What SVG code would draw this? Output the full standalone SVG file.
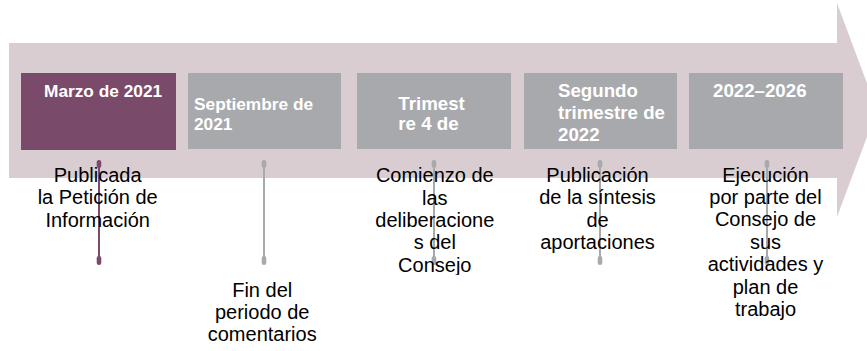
<svg xmlns="http://www.w3.org/2000/svg" width="867" height="351" viewBox="0 0 867 351">
<defs>
<style>
.box{fill:#A8A9AD;}
.boxp{fill:#7A4A6B;}
.bt{font-family:"Liberation Sans",Arial,sans-serif;font-weight:bold;fill:#FFFFFF;}
.s1{font-size:17.3px;}
.s2{font-size:18.7px;}
.lb{font-family:"Liberation Sans",Arial,sans-serif;font-size:20px;fill:#000000;text-anchor:middle;}
.pg{fill:#A8A9AD;}
.pp{fill:#7A4A6B;}
.lg{stroke:#A8A9AD;stroke-width:2;}
.lp{stroke:#7A4A6B;stroke-width:2;}
</style>
<clipPath id="clip3"><rect x="360" y="160" width="150" height="115"/></clipPath>
</defs>
<rect width="867" height="351" fill="#FFFFFF"/>
<polygon id="band" points="9,43 837,43 837,3 877,110 837,217 837,178 9,178" fill="#D9CDD2"/>
<g id="connectors">
<line class="lp" x1="99" y1="164" x2="99" y2="261"/>
<rect class="pp" x="96.7" y="160" width="4.6" height="8" rx="2.3"/>
<rect class="pp" x="96.7" y="256" width="4.6" height="9" rx="2.3"/>
<line class="lg" x1="264" y1="164" x2="264" y2="261"/>
<rect class="pg" x="261.7" y="160" width="4.6" height="8" rx="2.3"/>
<rect class="pg" x="261.7" y="256" width="4.6" height="9" rx="2.3"/>
<line class="lg" x1="434" y1="164" x2="434" y2="261"/>
<rect class="pg" x="431.7" y="160" width="4.6" height="8" rx="2.3"/>
<rect class="pg" x="431.7" y="256" width="4.6" height="9" rx="2.3"/>
<line class="lg" x1="600" y1="164" x2="600" y2="261"/>
<rect class="pg" x="597.7" y="160" width="4.6" height="8" rx="2.3"/>
<rect class="pg" x="597.7" y="256" width="4.6" height="9" rx="2.3"/>
<line class="lg" x1="767" y1="164" x2="767" y2="261"/>
<rect class="pg" x="764.7" y="160" width="4.6" height="8" rx="2.3"/>
<rect class="pg" x="764.7" y="256" width="4.6" height="9" rx="2.3"/>
</g>
<g id="node1">
<rect class="boxp" x="21" y="73" width="155" height="77"/>
<text class="bt s1" x="44" y="97">Marzo de 2021</text>
<text class="lb" x="97.7"><tspan x="97.7" y="181.5">Publicada</tspan><tspan x="97.7" y="204">la Petición de</tspan><tspan x="97.7" y="226.5">Información</tspan></text>
</g>
<g id="node2">
<rect class="box" x="188" y="73" width="153" height="76"/>
<text class="bt s1"><tspan x="194" y="109.5">Septiembre de</tspan><tspan x="194" y="130">2021</tspan></text>
<text class="lb"><tspan x="262.2" y="296.5">Fin del</tspan><tspan x="262.2" y="318.5">periodo de</tspan><tspan x="262.2" y="341">comentarios</tspan></text>
</g>
<g id="node3">
<rect class="box" x="357" y="73" width="154" height="76"/>
<text class="bt s2"><tspan x="398.3" y="110">Trimest</tspan><tspan x="398.3" y="130">re 4 de</tspan></text>
<text class="lb" clip-path="url(#clip3)"><tspan x="434.8" y="182.3">Comienzo de</tspan><tspan x="434.8" y="204.7">las</tspan><tspan x="434.8" y="227">deliberacione</tspan><tspan x="434.8" y="249.4">s del</tspan><tspan x="434.8" y="271.7">Consejo</tspan></text>
</g>
<g id="node4">
<rect class="box" x="524" y="73" width="153" height="76"/>
<text class="bt s2"><tspan x="558" y="97.3">Segundo</tspan><tspan x="558" y="119.3">trimestre de</tspan><tspan x="558" y="140.7">2022</tspan></text>
<text class="lb"><tspan x="597.5" y="181.5">Publicación</tspan><tspan x="597.5" y="204">de la síntesis</tspan><tspan x="597.5" y="226.5">de</tspan><tspan x="597.5" y="249">aportaciones</tspan></text>
</g>
<g id="node5">
<rect class="box" x="689" y="73" width="154" height="76"/>
<text class="bt s2" x="713" y="97">2022–2026</text>
<text class="lb"><tspan x="765.5" y="181.5">Ejecución</tspan><tspan x="765.5" y="203.9">por parte del</tspan><tspan x="765.5" y="226.3">Consejo de</tspan><tspan x="765.5" y="248.7">sus</tspan><tspan x="765.5" y="271.1">actividades y</tspan><tspan x="765.5" y="293.5">plan de</tspan><tspan x="765.5" y="315.9">trabajo</tspan></text>
</g>
</svg>
